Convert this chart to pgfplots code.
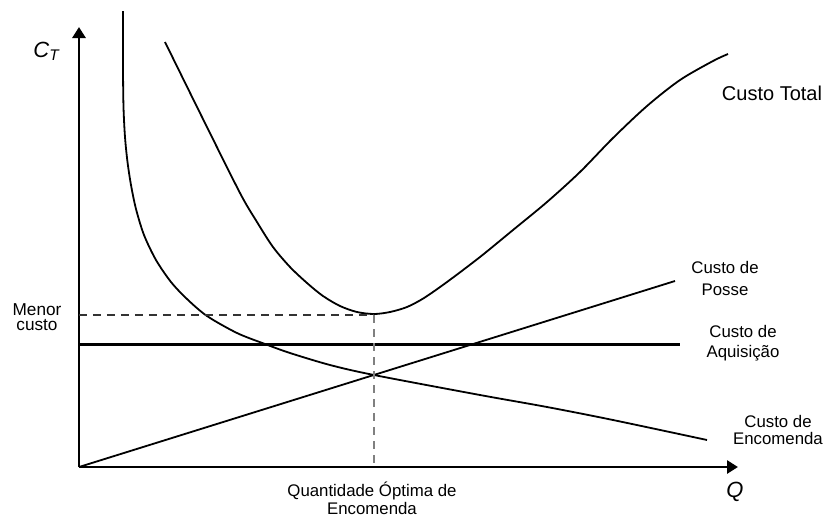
\documentclass[border=0pt]{standalone}
\usepackage{fontspec}
\setmainfont{Liberation Sans}
\usepackage{pgfplots}
\pgfplotsset{compat=1.18}
\usetikzlibrary{arrows.meta}

\begin{document}
\begin{tikzpicture}[lbl/.style={inner sep=0pt, align=center}]
\begin{axis}[
    x=0.5pt, y=0.5pt,
    xmin=0, xmax=659,
    ymin=0, ymax=440,
    enlargelimits=false,
    axis lines=left,
    axis line style={line width=1.4pt, -{Triangle[width=6.5pt,length=5.5pt]}},
    ticks=none,
    clip=false,
]

% Custo de Encomenda
\addplot[line width=0.9pt, smooth] coordinates {
  (44,456) (44,400) (44.5,360) (46,330) (48.5,305) (52,282) (57,258)
  (65,232) (77,207) (92,185) (108,168) (128,151) (158,134) (186,123)
  (211,114) (251,102) (295,92) (401,72) (468,60) (534,47) (628,27)
};

% Custo Total
\addplot[line width=0.9pt, smooth] coordinates {
  (86,425) (123,350) (161,274) (178,245) (194,220) (211,200) (228,184)
  (244,171) (261,161) (278,155) (295,153) (311,155) (328,160) (345,169)
  (368,185) (401,210) (434,237) (468,265) (501,295) (534,329) (568,361)
  (601,387) (634,406) (649,413)
};

% Custo de Posse
\addplot[line width=0.9pt] coordinates {(0,0) (596,186)};

% Custo de Aquisicao
\addplot[line width=1.5pt] coordinates {(0,123) (601,123)};

% menor custo / quantidade optima
\addplot[line width=0.7pt, black!80, dash pattern=on 4pt off 3pt] coordinates {(0,152) (295,152)};
\addplot[line width=0.7pt, black!50, dash pattern=on 4pt off 3pt] coordinates {(295,152) (295,0)};

\node[lbl, font=\fontsize{11}{12}\selectfont] at (axis cs:-32,416) {\textit{C}\textsubscript{\textit{T}}};
\node[lbl, font=\fontsize{11}{12}\selectfont] at (axis cs:656,-25) {\textit{Q}};
\node[lbl, font=\fontsize{8.6}{7.5}\selectfont] at (axis cs:-42,150) {Menor\\custo};
\node[lbl, font=\fontsize{8.4}{11}\selectfont] at (axis cs:646,189) {Custo de\\Posse};
\node[lbl, font=\fontsize{8.4}{10}\selectfont] at (axis cs:664,124) {Custo de\\Aquisição};
\node[lbl, font=\fontsize{8.4}{8.5}\selectfont] at (axis cs:699,37) {Custo de\\Encomenda};
\node[lbl, font=\fontsize{10}{12}\selectfont] at (axis cs:693,374) {Custo Total};
\node[lbl, font=\fontsize{8.4}{7.5}\selectfont] at (axis cs:293,-31) {Quantidade Óptima de\\Encomenda};

% page size as in the reference
\path (axis cs:-79,-49) rectangle (axis cs:746,467);
\end{axis}
\end{tikzpicture}
\end{document}
